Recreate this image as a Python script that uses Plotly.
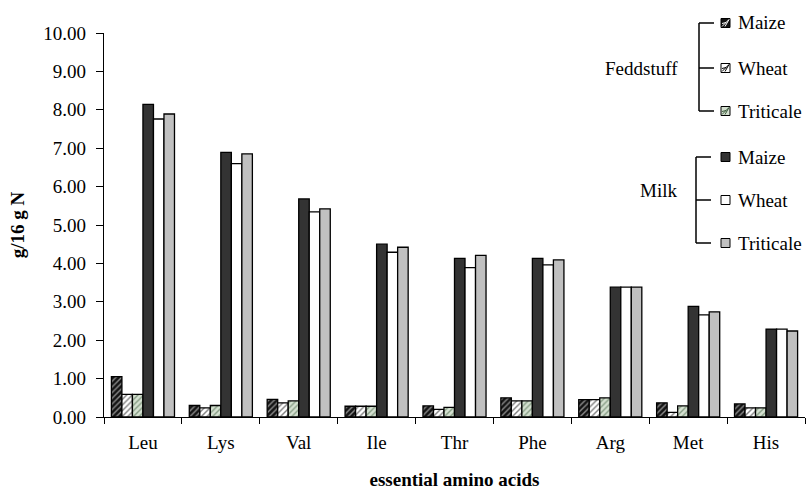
import plotly.graph_objects as go

categories = ["Leu", "Lys", "Val", "Ile", "Thr", "Phe", "Arg", "Met", "His"]

feed_maize = [1.05, 0.30, 0.46, 0.28, 0.29, 0.50, 0.45, 0.37, 0.34]
feed_wheat = [0.59, 0.24, 0.37, 0.28, 0.20, 0.42, 0.45, 0.12, 0.24]
feed_triticale = [0.59, 0.30, 0.42, 0.28, 0.25, 0.42, 0.50, 0.29, 0.24]
milk_maize = [8.14, 6.89, 5.68, 4.50, 4.13, 4.13, 3.38, 2.88, 2.29]
milk_wheat = [7.76, 6.60, 5.34, 4.29, 3.89, 3.96, 3.38, 2.66, 2.29]
milk_triticale = [7.89, 6.85, 5.42, 4.42, 4.21, 4.09, 3.38, 2.74, 2.24]

y_ticks = [0, 1, 2, 3, 4, 5, 6, 7, 8, 9, 10]
y_tick_labels = [f"{v:.2f}" for v in y_ticks]

FONT = "Liberation Serif"
FS = 19
W, H = 807, 494
L, R, T, B = 104, 2, 33, 77

series = [
    ("Feddstuff", "Maize", feed_maize, dict(bg="#141414", fg="#ffffff", shape="/")),
    ("Feddstuff", "Wheat", feed_wheat, dict(bg="#ffffff", fg="#000000", shape="/")),
    ("Feddstuff", "Triticale", feed_triticale, dict(bg="#d4e0d0", fg="#3a5a3a", shape="/")),
    ("Milk", "Maize", milk_maize, dict(color="#333333")),
    ("Milk", "Wheat", milk_wheat, dict(color="#ffffff")),
    ("Milk", "Triticale", milk_triticale, dict(color="#c0c0c0")),
]

fig = go.Figure()
for grp, name, vals, st in series:
    if "shape" in st:
        marker = dict(
            color=st["bg"],
            pattern=dict(shape=st["shape"], fgcolor=st["fg"], bgcolor=st["bg"],
                         size=4, solidity=0.35, fillmode="overlay"),
            line=dict(color="#000000", width=1.3),
        )
    else:
        marker = dict(color=st["color"], line=dict(color="#000000", width=1.3))
    fig.add_trace(go.Bar(x=categories, y=vals, name=f"{grp} {name}", marker=marker,
                         showlegend=False))

fig.update_layout(
    width=W, height=H,
    margin=dict(l=L, r=R, t=T, b=B),
    paper_bgcolor="white", plot_bgcolor="white",
    barmode="group", bargap=0.19, bargroupgap=0,
    font=dict(family=FONT, size=FS, color="#000000"),
)
fig.update_xaxes(
    showline=True, linecolor="#000000", linewidth=1.3,
    ticks="outside", tickson="boundaries", ticklen=6, tickcolor="#000000",
    tickfont=dict(family=FONT, size=FS), ticklabelstandoff=8,
    title=dict(text="<b>essential amino acids</b>", font=dict(family=FONT, size=FS), standoff=20),
    showgrid=False,
)
fig.update_yaxes(
    range=[0, 10], tickvals=y_ticks, ticktext=y_tick_labels,
    showline=True, linecolor="#000000", linewidth=1.3,
    ticks="outside", ticklen=7, tickcolor="#000000",
    tickfont=dict(family=FONT, size=FS), ticklabelstandoff=6,
    title=dict(text="<b>g/16 g N</b>", font=dict(family=FONT, size=FS), standoff=13),
    showgrid=False, zeroline=False,
)

# custom bracket legend (pixel -> paper helpers)
pw, ph = W - L - R, H - T - B
def px(x):
    return (x - L) / pw
def py(y):
    return (H - B - y) / ph

groups = [
    ("Feddstuff", 699, 23, 68, 111, 641, 68, series[:3]),
    ("Milk", 696, 157, 200, 243, 658, 190, series[3:]),
]
for title, bx, y1, y2, y3, tx, ty, ser in groups:
    line = dict(color="#000000", width=1.5)
    fig.add_shape(type="line", xref="paper", yref="paper", x0=px(bx), x1=px(bx), y0=py(y1), y1=py(y3), line=line)
    for yy in (y1, y2, y3):
        fig.add_shape(type="line", xref="paper", yref="paper", x0=px(bx), x1=px(bx + 15), y0=py(yy), y1=py(yy), line=line)
    fig.add_annotation(xref="paper", yref="paper", x=px(tx), y=py(ty), text=title,
                       showarrow=False, xanchor="center", yanchor="middle",
                       font=dict(family=FONT, size=FS))
    for (grp, name, vals, st), yy in zip(ser, (y1, y2, y3)):
        fill = st.get("bg", st.get("color"))
        fig.add_shape(type="rect", xref="paper", yref="paper",
                      x0=px(721), x1=px(730), y0=py(yy + 4.5), y1=py(yy - 4.5),
                      fillcolor=fill, line=dict(color="#000000", width=1))
        if "shape" in st:
            for k in (-3, 0, 3):
                fig.add_shape(type="line", xref="paper", yref="paper",
                              x0=px(722 + max(0, k)), y0=py(yy + 3.5 - max(0, -k)),
                              x1=px(729 + min(0, k)), y1=py(yy - 3.5 - min(0, k)),
                              line=dict(color=st["fg"], width=1))
        fig.add_annotation(xref="paper", yref="paper", x=px(736), y=py(yy), text=name,
                           showarrow=False, xanchor="left", yanchor="middle",
                           font=dict(family=FONT, size=FS))

fig.write_html("out.html", config={"displayModeBar": False},
               post_script="document.body.style.margin='0';")
